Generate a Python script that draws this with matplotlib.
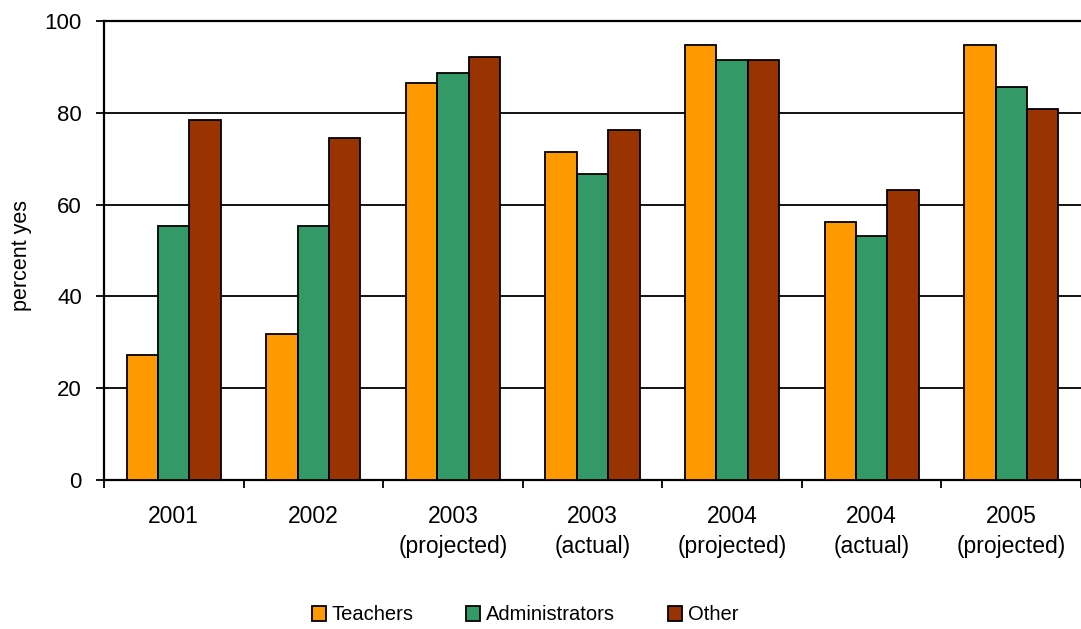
import matplotlib
matplotlib.use("Agg")
import matplotlib.pyplot as plt
import numpy as np

plt.rcParams['font.family'] = ['Liberation Sans', 'DejaVu Sans']

categories = ["2001", "2002", "2003\n(projected)", "2003\n(actual)",
              "2004\n(projected)", "2004\n(actual)", "2005\n(projected)"]
teachers = [27.2, 31.7, 86.6, 71.4, 94.8, 56.3, 94.8]
administrators = [55.4, 55.4, 88.7, 66.7, 91.6, 53.2, 85.6]
other = [78.4, 74.5, 92.2, 76.3, 91.6, 63.2, 80.9]
series_names = ["Teachers", "Administrators", "Other"]
colors = ["#FF9900", "#339966", "#993300"]
yticks = [0, 20, 40, 60, 80, 100]

fig = plt.figure(figsize=(10.81, 6.29), dpi=100)
ax = fig.add_axes([104/1081, 1 - 480/629, (1081 - 104)/1081, (480 - 21)/629])

x = np.arange(len(categories))
w = 0.225
for i, (vals, name, c) in enumerate(zip([teachers, administrators, other], series_names, colors)):
    ax.bar(x + (i - 1) * w, vals, width=w, color=c, edgecolor="black",
           linewidth=1.3, label=name, zorder=3)

ax.set_xlim(-0.5, len(categories) - 0.5)
ax.set_ylim(0, 100)
ax.set_yticks(yticks)
ax.set_yticklabels([str(t) for t in yticks], fontsize=16)
ax.yaxis.grid(True, color="black", linewidth=1.3, zorder=0)
ax.set_axisbelow(True)

ax.set_xticks(x)
ax.set_xticklabels(categories, fontsize=16.5, linespacing=1.4)
ax.tick_params(axis="x", length=0, pad=18)
ax.set_xticks(np.arange(len(categories) + 1) - 0.5, minor=True)
ax.tick_params(axis="x", which="minor", length=6, width=1.3, direction="out")
ax.tick_params(axis="y", length=6, width=1.3, direction="out", pad=10)

for s in ["left", "bottom", "top"]:
    ax.spines[s].set_linewidth(1.6)
    ax.spines[s].set_color("black")
ax.spines["right"].set_visible(False)

ax.set_ylabel("percent yes", fontsize=15.5)
ax.yaxis.set_label_coords((32 - 104) / (1081 - 104), 0.49)

leg = fig.legend(loc="center", bbox_to_anchor=(525/1081, 1 - 615/629), ncol=3,
                 frameon=False, fontsize=14.5, handlelength=0.7, handleheight=0.8,
                 handletextpad=0.3, columnspacing=2.6)
for h in leg.legend_handles:
    h.set_linewidth(1.3)

fig.savefig("out.png", dpi=100)
